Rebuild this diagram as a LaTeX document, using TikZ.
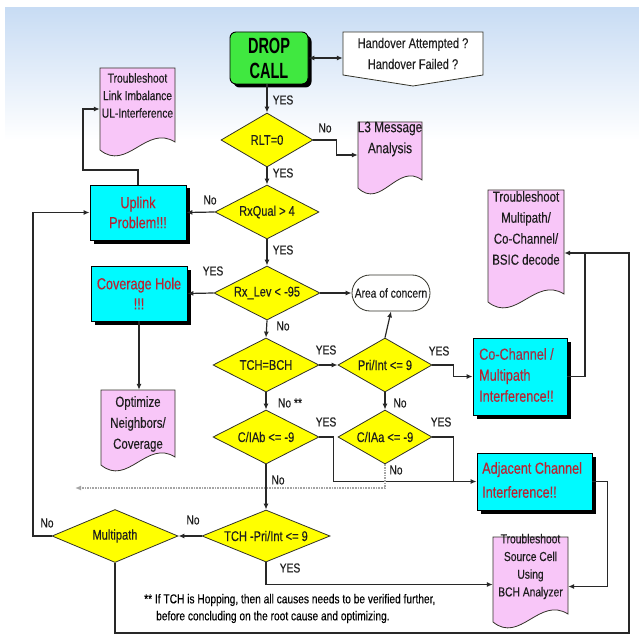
\documentclass[tikz,border=0pt]{standalone}
\usepackage{fontspec}
\setmainfont{Liberation Sans}[FakeStretch=0.79,FakeBold=0.25]
\newfontfamily\dropfont{Liberation Sans}[FakeStretch=0.66]
\usetikzlibrary{shapes.geometric,arrows.meta,shadows}
\definecolor{bgblue}{RGB}{200,220,244}
\definecolor{greenc}{RGB}{64,232,64}
\definecolor{yel}{RGB}{255,255,0}
\definecolor{cyanc}{RGB}{0,250,255}
\definecolor{pinkc}{RGB}{248,198,248}
\definecolor{redt}{RGB}{185,35,50}
\definecolor{redm}{RGB}{160,50,70}
\definecolor{lncol}{RGB}{40,40,40}
\definecolor{outl}{RGB}{50,50,40}
\definecolor{txt}{RGB}{30,30,30}
\definecolor{dotc}{RGB}{165,165,165}
\pgfdeclarelayer{bg}
\pgfsetlayers{bg,main}
\newcommand\fs[2]{\fontsize{#1}{#2}\selectfont}
\tikzset{
  every node/.style={inner sep=0pt, text=txt},
  ln/.style={draw=lncol, line width=1.2pt},
  arr/.style={ln, -{Latex[length=6pt,width=5pt]}},
  dblarr/.style={ln, {Latex[length=6pt,width=5pt]}-{Latex[length=6pt,width=5pt]}},
  dotarr/.style={draw=dotc, line width=1.6pt, dash pattern=on 1.6pt off 1pt, -{Latex[length=6pt,width=5pt]}},
  dia/.style={diamond, draw=outl, line width=0.8pt, fill=yel, inner sep=0pt, font=\fs{14}{17}},
  cyanbox/.style={rectangle, draw=black, line width=0.8pt, fill=cyanc,
    drop shadow={shadow xshift=3.5pt, shadow yshift=-3.5pt, opacity=1, fill=black},
    font=\fs{16}{20}, text=redt, align=center},
  dropbox/.style={rectangle, rounded corners=6pt, draw=black, line width=0.9pt, fill=greenc,
    drop shadow={shadow xshift=3.5pt, shadow yshift=-3.5pt, opacity=1, fill=black},
    font=\dropfont\bfseries\fs{22}{25}, text=black, align=center},
  docline/.style={fill=pinkc, draw=outl, line width=0.8pt},
  doctext/.style={align=center, text=txt},
  lbl/.style={font=\fs{13}{15}, text=txt}
}
\newcommand\pinkdoc[5]{%
  \filldraw[docline] ({#2},{#3}) -- ({#4},{#3}) -- ({#4},{#5-8})
    .. controls ({#2+0.62*(#4-#2)},{#5-26}) and ({#2+0.36*(#4-#2)},{#5+22}) .. ({#2},{#5}) -- cycle;
  \node[minimum width={#4-#2}, minimum height={#5-#3}] (#1) at ({(#2+#4)/2},{(#3+#5)/2}) {};}
\begin{document}
\begin{tikzpicture}[x=1pt,y=-1pt]
\useasboundingbox (0,0) rectangle (639,636);

% ---------- top ----------
\node[dropbox, minimum width=78, minimum height=52] (DROP) at (269,58) {DROP\\CALL};
\filldraw[fill=white, draw=outl, line width=0.8pt] (343,32) -- (483,32) -- (483,75) -- (413,86) -- (343,75) -- cycle;
\node[minimum width=140, minimum height=43, align=center, font=\fs{14}{21}] (HO) at (413,53.5) {Handover Attempted ?\\Handover Failed ?};

\node[dia, minimum width=92, minimum height=54] (RLT) at (267,140) {\makebox[0pt]{RLT=0}};
\pinkdoc{L3}{358}{122}{422}{188}
\node[doctext, font=\fs{15}{21}] (L3t) at (390,139) {L3 Message\\Analysis};

\node[dia, minimum width=104, minimum height=54] (RXQ) at (267,212) {\makebox[0pt]{RxQual > 4}};
\node[cyanbox, minimum width=96, minimum height=55] (UP) at (138,212.5) {Uplink\\Problem!!!};
\pinkdoc{TL}{100}{68}{175}{150}
\node[doctext, font=\fs{13}{17.5}] (TLt) at (137.5,95.5) {Troubleshoot\\Link Imbalance\\UL-Interference};

\node[dia, minimum width=106, minimum height=54] (RXL) at (267,293) {\makebox[0pt]{Rx\_Lev < -95}};
\node[cyanbox, minimum width=96, minimum height=55] (CH) at (139,293.5) {Coverage Hole\\!!!};
\pinkdoc{OPT}{101}{390}{175}{465}
\node[doctext, font=\fs{14.5}{21}] (OPTt) at (138,424) {Optimize\\Neighbors/\\Coverage};
\node[draw=outl, fill=white, line width=0.8pt, rounded corners=18pt, minimum width=78, minimum height=36, font=\fs{13}{15}] (AOC) at (391,293) {Area of concern};

\node[dia, minimum width=106, minimum height=54] (TCH) at (266,365) {\makebox[0pt]{TCH=BCH}};
\node[dia, minimum width=94, minimum height=54] (PRI) at (385,365) {\makebox[0pt]{Pri/Int <= 9}};
\node[cyanbox, minimum width=94, minimum height=77] (CC) at (520,376.5) {};
\node[anchor=west, align=left, font=\fs{16}{21}, text=redt] (CCt) at (479,375) {{\color{redm}Co-Channel /}\\Multipath\\Interference!!};
\pinkdoc{TM}{488}{190}{564}{302}
\node[doctext, font=\fs{14.5}{21}] (TMt) at (526,228) {Troubleshoot\\Multipath/\\Co-Channel/\\BSIC decode};

\node[dia, minimum width=106, minimum height=54] (CIB) at (266,437) {\makebox[0pt]{C/IAb <= -9}};
\node[dia, minimum width=94, minimum height=54] (CIA) at (385,437) {\makebox[0pt]{C/IAa <= -9}};
\node[cyanbox, minimum width=115, minimum height=57] (ADJ) at (534.5,481.5) {};
\node[anchor=west, align=left, font=\fs{16}{24}, text=redt] (ADJt) at (482,480) {Adjacent Channel\\Interference!!};

\node[dia, minimum width=128, minimum height=52] (TPI) at (266,536) {\makebox[0pt]{TCH -Pri/Int <= 9}};
\node[dia, minimum width=126, minimum height=53] (MP) at (115,536) {\makebox[0pt]{Multipath}};
\pinkdoc{SC}{493}{537}{568}{622}
\node[doctext, font=\fs{13}{17.7}] (SCt) at (530.5,566.5) {Troubleshoot\\Source Cell\\Using\\BCH Analyzer};

\node[anchor=west, align=left, font=\fs{12.9}{17}, text=black] (FN) at (144,608.5)
  {** If TCH is Hopping, then all causes needs to be verified further,\\\hspace*{12pt}before concluding on the root cause and optimizing.};

% ---------- labels ----------
\node[lbl] (y1) at (283,100) {YES};
\node[lbl] (n1) at (325,128) {No};
\node[lbl] (y2) at (283,173) {YES};
\node[lbl] (n2) at (210,200) {No};
\node[lbl] (y3) at (283,250) {YES};
\node[lbl] (y4) at (213,271) {YES};
\node[lbl] (n3) at (283,326) {No};
\node[lbl] (y5) at (326,350) {YES};
\node[lbl] (y6) at (439,351) {YES};
\node[lbl] (n4) at (290,403) {No **};
\node[lbl] (n5) at (400,403) {No};
\node[lbl] (y7) at (326,422) {YES};
\node[lbl] (y8) at (441,422) {YES};
\node[lbl] (n6) at (396,470) {No};
\node[lbl] (n7) at (278,480) {No};
\node[lbl] (n8) at (193,520) {No};
\node[lbl] (n9) at (47,523) {No};
\node[lbl] (y9) at (290,568) {YES};

% ---------- coordinates for bends ----------
\coordinate (b1) at (83,170);
\coordinate (b2) at (33,536);
\coordinate (b3) at (629,633);
\coordinate (b5) at (585,253);
\coordinate (d1) at (75,488);
\path (ADJ.west) ++(-23,0) coordinate (j1);

% ---------- connectors ----------
\draw[dblarr] (DROP.east) -- (DROP.east -| HO.west);
\draw[arr] (DROP.south -| RLT.north) -- (RLT.north);
\draw[arr] (RLT.east) -- ++(23,0) |- (L3.west);
\draw[arr] (RLT.south) -- (RXQ.north);
\draw[arr] (RXQ.west) -- (UP.east);
\draw[arr] (UP.north) |- (b1) |- (TL.west);
\draw[arr] (RXQ.south) -- (RXL.north);
\draw[arr] (RXL.west) -- (CH.east);
\draw[arr] (CH.south) -- (CH.south |- OPT.north);
\draw[arr] (RXL.east) -- (AOC.west);
\draw[arr] (RXL.south) -- (TCH.north);
\draw[arr] (TCH.east) -- (PRI.west);
\draw[arr] (PRI.north) -- (AOC.south);
\draw[arr] (PRI.east) -- ++(21,0) |- (CC.west);
\draw[ln] (CC.east) -| (b5);
\draw[arr] (TCH.south) -- (CIB.north);
\draw[arr] (PRI.south) -- (CIA.north);
\draw[arr] (CIB.east) -- ++(14,0) |- (ADJ.west);
\draw[ln] (CIA.east) -| (j1);
\draw[dotarr] (CIA.south) |- (d1);
\draw[arr] (CIB.south) -- (TPI.north);
\draw[arr] (TPI.west) -- (MP.east);
\draw[arr] (MP.west) -- (b2) |- (UP.west);
\draw[arr] (TPI.south) |- ([yshift=-5pt]SC.west);
\draw[arr] (ADJ.east) -- ++(15,0) |- ([yshift=-7pt]SC.east);

% ---------- background layer ----------
\begin{pgfonlayer}{bg}
\fill[white] (0,0) rectangle (639,636);
\shade[top color=bgblue, bottom color=white] (5,8) rectangle (639,140);
\draw[arr] (MP.south) |- (b3) |- ([yshift=-7pt]TM.east);
\end{pgfonlayer}
\end{tikzpicture}
\end{document}
